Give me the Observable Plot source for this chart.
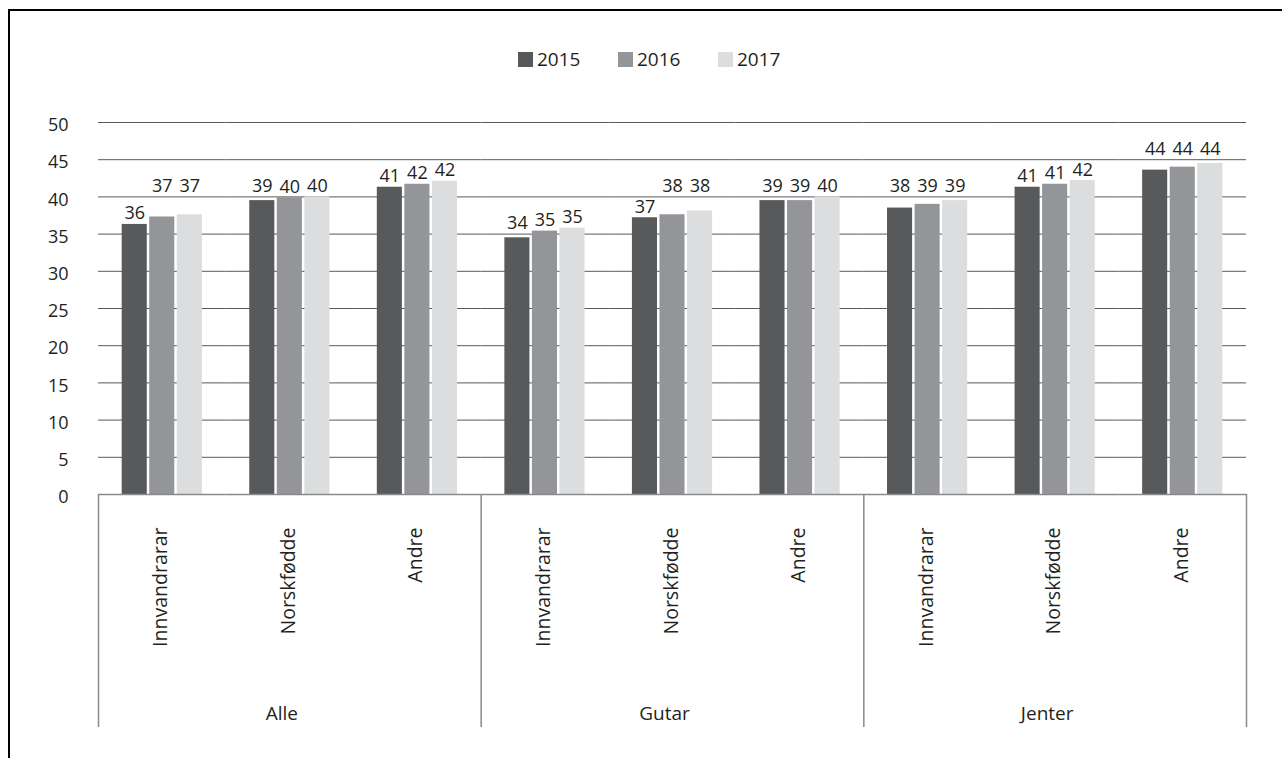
<!DOCTYPE html>
<html><head><meta charset="utf-8">
<script src="https://cdn.jsdelivr.net/npm/d3@7"></script>
<script src="https://cdn.jsdelivr.net/npm/@observablehq/plot@0.6"></script>
<style>
html,body{margin:0;padding:0;background:#fff;width:1282px;height:758px;overflow:hidden;}
#frame{position:absolute;left:8px;top:9px;width:1320px;height:800px;border-top:2px solid #000;border-left:2px solid #000;box-sizing:border-box;}
#chart{position:absolute;left:0;top:0;}
#legend{position:absolute;left:518px;top:49px;display:flex;font-family:"Open Sans";font-size:19px;color:#231f20;}
.item{display:flex;align-items:center;width:100px;height:20px;}
.sw{width:15px;height:15px;margin-right:4px;}
</style></head><body>
<div id="frame"></div>
<div id="chart"></div>
<div id="legend"></div>
<script>
const groups = ["Alle", "Gutar", "Jenter"];
const subgroups = ["Innvandrarar", "Norskfødde", "Andre"];
const years = ["2015", "2016", "2017"];
// values per year, ordered group × subgroup
const values2015 = [36.3, 39.5, 41.3, 34.5, 37.2, 39.5, 38.5, 41.3, 43.6];
const values2016 = [37.3, 39.9, 41.7, 35.4, 37.6, 39.5, 39.0, 41.7, 44.0];
const values2017 = [37.6, 40.0, 42.1, 35.8, 38.1, 40.0, 39.5, 42.2, 44.5];
const labels2015 = [36, 39, 41, 34, 37, 39, 38, 41, 44];
const labels2016 = [37, 40, 42, 35, 38, 39, 39, 41, 44];
const labels2017 = [37, 40, 42, 35, 38, 40, 39, 42, 44];
const yTicks = [0, 5, 10, 15, 20, 25, 30, 35, 40, 45, 50];
const colors = ["#58595b", "#939598", "#dcddde"];

const valuesByYear = [values2015, values2016, values2017];
const labelsByYear = [labels2015, labels2016, labels2017];
const slots = groups.flatMap(g => subgroups.map(s => ({group: g, sub: s, slot: g + "|" + s})));
const rows = [];
slots.forEach((s, i) => years.forEach((yr, k) => rows.push({...s, year: yr, value: valuesByYear[k][i], label: labelsByYear[k][i]})));

// label placement: just above the bar, lifted above a gridline it would cross
function labelPos(v) {
  let y = v + 1.45;
  const g = Math.round(y / 5) * 5;
  if (g > 0 && Math.abs(y - g) < 1.3) y = g + 1.4;
  return y;
}

const W = 1282, H = 758, mL = 98, mR = 36, mT = 122, mB = 264;
const slotW = (W - mL - mR) / slots.length;
const firstSlots = slots.filter(s => s.sub === subgroups[0]);
const lastSlot = [slots[slots.length - 1]];
const midSlots = slots.filter(s => s.sub === subgroups[1]);

const plot = Plot.plot({
  width: W, height: H, marginLeft: mL, marginRight: mR, marginTop: mT, marginBottom: mB,
  style: {fontFamily: "Open Sans", fontSize: "18px", color: "#231f20", background: "transparent", overflow: "visible"},
  fx: {domain: slots.map(d => d.slot), padding: 0, axis: null, round: false},
  x: {domain: years, paddingInner: 0.09, paddingOuter: 0.86, axis: null, round: false},
  y: {domain: [0, 50]},
  color: {domain: years, range: colors},
  marks: [
    Plot.gridY(yTicks.filter(v => v > 0), {stroke: "#58595b", strokeOpacity: 1, strokeWidth: 1}),
    Plot.axisY({ticks: yTicks, tickSize: 0, tickPadding: 30, dy: 3, label: null}),
    Plot.barY(rows, {fx: "slot", x: "year", y: "value", fill: "year"}),
    Plot.ruleY([0], {stroke: "#8a8a8a", strokeWidth: 1.5}),
    Plot.text(rows, {fx: "slot", x: "year", y: d => labelPos(d.value), text: d => String(d.label), fill: "#231f20"}),
    Plot.text(slots, {fx: "slot", text: "sub", frameAnchor: "bottom", rotate: -90, textAnchor: "end", dy: 33, dx: 5, fontSize: 19.5, fill: "#231f20"}),
    Plot.text(midSlots, {fx: "slot", text: "group", frameAnchor: "bottom", dy: 225, dx: -8, fontSize: 19, fill: "#231f20"}),
    Plot.ruleX(firstSlots, {fx: "slot", x: null, dx: -slotW / 2, insetTop: H - mT - mB, insetBottom: -233, stroke: "#8a8a8a", strokeWidth: 1.5}),
    Plot.ruleX(lastSlot, {fx: "slot", x: null, dx: slotW / 2, insetTop: H - mT - mB, insetBottom: -233, stroke: "#8a8a8a", strokeWidth: 1.5})
  ]
});
document.getElementById("chart").appendChild(plot);

const legend = document.getElementById("legend");
years.forEach((yr, k) => {
  const item = document.createElement("div");
  item.className = "item";
  const sw = document.createElement("div");
  sw.className = "sw";
  sw.style.background = colors[k];
  const t = document.createElement("span");
  t.textContent = yr;
  item.appendChild(sw);
  item.appendChild(t);
  legend.appendChild(item);
});
</script>
</body></html>
